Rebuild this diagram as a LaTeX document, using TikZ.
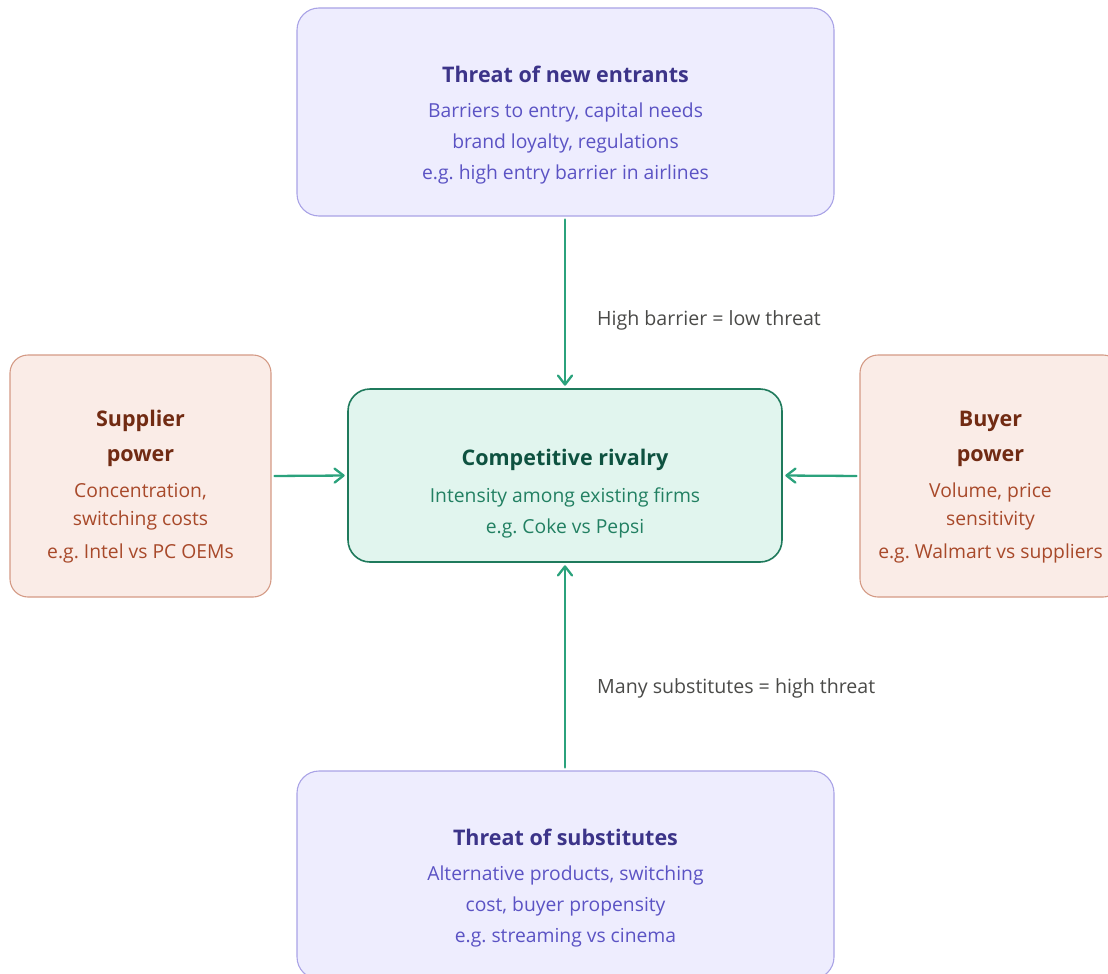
\documentclass[tikz,border=0pt]{standalone}
\usepackage{fontspec}
\setmainfont{Open Sans}
\usetikzlibrary{arrows.meta}
\frenchspacing
\definecolor{pfill}{HTML}{EEEDFE}
\definecolor{pline}{HTML}{A9A3E6}
\definecolor{ptitle}{HTML}{3C3489}
\definecolor{pbody}{HTML}{5B53C4}
\definecolor{gfill}{HTML}{E1F5EE}
\definecolor{gline}{HTML}{1F7A5C}
\definecolor{gtitle}{HTML}{0E5240}
\definecolor{gbody}{HTML}{228062}
\definecolor{cfill}{HTML}{FAECE7}
\definecolor{cline}{HTML}{D49A85}
\definecolor{ctitle}{HTML}{712B13}
\definecolor{cbody}{HTML}{A8492A}
\definecolor{arr}{HTML}{2BA27C}
\definecolor{lbl}{HTML}{4A4A48}
\tikzset{
  x=1pt, y=-1pt,
  pbox/.style={draw=pline, fill=pfill, line width=1.1pt, rounded corners=22pt, minimum width=537pt, minimum height=208pt, inner sep=0pt},
  gbox/.style={draw=gline, fill=gfill, line width=1.6pt, rounded corners=22pt, minimum width=434pt, minimum height=173pt, inner sep=0pt},
  cbox/.style={draw=cline, fill=cfill, line width=1.1pt, rounded corners=18pt, minimum width=261pt, minimum height=242pt, inner sep=0pt},
  ttl/.style={anchor=base, inner sep=0pt, font=\fontsize{21.5}{24}\selectfont\bfseries},
  bdy/.style={anchor=base, inner sep=0pt, font=\fontsize{19.3}{22}\selectfont},
  lab/.style={anchor=base west, inner sep=0pt, font=\fontsize{19.6}{22}\selectfont, text=lbl},
  conn/.style={draw=arr, line width=2.3pt, line cap=round, -{Straight Barb[length=9pt,width=14pt,line width=2.3pt,round]}}
}
\begin{document}
\begin{tikzpicture}
\useasboundingbox (0,0) rectangle (1108,974);
% boxes
\node[pbox] (entr) at (565.5,112) {};
\node[pbox] (subs) at (565.5,875) {};
\node[gbox] (riv) at (565,475.5) {};
\node[cbox] (supp) at (140.5,476) {};
\node[cbox] (buy) at (990.5,476) {};
% top box text
\node[ttl, text=ptitle] (entrA) at (565.5,82) {Threat of new entrants};
\node[bdy, text=pbody] (entrB) at (565.5,117) {Barriers to entry, capital needs};
\node[bdy, text=pbody] (entrC) at (565.5,148) {brand loyalty, regulations};
\node[bdy, text=pbody] (entrD) at (565.5,179) {e.g. high entry barrier in airlines};
% bottom box text
\node[ttl, text=ptitle] (subsA) at (565.5,845) {Threat of substitutes};
\node[bdy, text=pbody] (subsB) at (565.5,880) {Alternative products, switching};
\node[bdy, text=pbody] (subsC) at (565.5,911.5) {cost, buyer propensity};
\node[bdy, text=pbody] (subsD) at (565.5,942.5) {e.g. streaming vs cinema};
% center text
\node[ttl, text=gtitle] (rivA) at (565,465) {Competitive rivalry};
\node[bdy, text=gbody] (rivB) at (565,502.5) {Intensity among existing firms};
\node[bdy, text=gbody] (rivC) at (565,533.5) {e.g. Coke vs Pepsi};
% left text
\node[ttl, text=ctitle] (suppA) at (140.5,426) {Supplier};
\node[ttl, text=ctitle] (suppB) at (140.5,461) {power};
\node[bdy, text=cbody] (suppC) at (140.5,497) {Concentration,};
\node[bdy, text=cbody] (suppD) at (140.5,525) {switching costs};
\node[bdy, text=cbody] (suppE) at (140.5,558) {e.g. Intel vs PC OEMs};
% right text
\node[ttl, text=ctitle] (buyA) at (990.5,426) {Buyer};
\node[ttl, text=ctitle] (buyB) at (990.5,461) {power};
\node[bdy, text=cbody] (buyC) at (990.5,497) {Volume, price};
\node[bdy, text=cbody] (buyD) at (990.5,525) {sensitivity};
\node[bdy, text=cbody] (buyE) at (990.5,558) {e.g. Walmart vs suppliers};
% connectors
\draw[conn, shorten <=3pt, shorten >=2.5pt] (entr.south -| riv.north) -- (riv.north);
\draw[conn, shorten <=3pt, shorten >=2.5pt] (subs.north -| riv.south) -- (riv.south);
\draw[conn, shorten <=3pt, shorten >=2.5pt] (supp.east) -- (riv.west);
\draw[conn, shorten <=3pt, shorten >=2.5pt] (buy.west) -- (riv.east);
% labels
\node[lab] (lab1) at (597,325) {High barrier = low threat};
\node[lab] (lab2) at (597,693) {Many substitutes = high threat};
\end{tikzpicture}
\end{document}
